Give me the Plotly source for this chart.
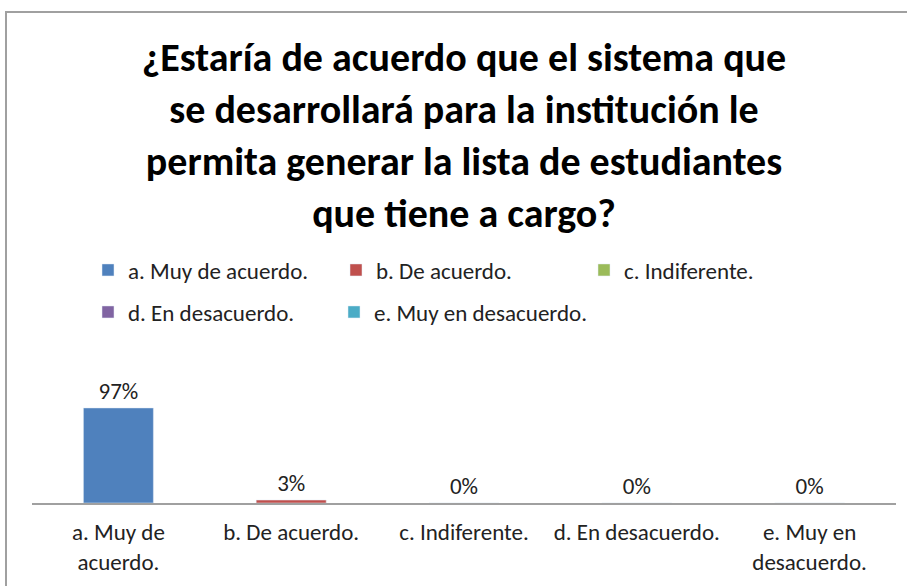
import plotly.graph_objects as go

# %%
categories = [
    'a. Muy de acuerdo.',
    'b. De acuerdo.',
    'c. Indiferente.',
    'd. En desacuerdo.',
    'e. Muy en desacuerdo.',
]
tick_labels = [
    'a. Muy de<br>acuerdo.',
    'b. De acuerdo.',
    'c. Indiferente.',
    'd. En desacuerdo.',
    'e. Muy en<br>desacuerdo.',
]
percentages = [0.97, 0.03, 0.0, 0.0, 0.0]
colors = ['#4F81BD', '#C0504D', '#9BBB59', '#8064A2', '#4BACC6']
legend_ids = ['legend', 'legend', 'legend', 'legend2', 'legend3']

title_text = (
    '¿Estaría de acuerdo que el sistema que<br>'
    'se desarrollará para la institución le<br>'
    'permita generar la lista de estudiantes<br>'
    'que tiene a cargo?'
)

FONT = 'Calibri, Carlito, Lato, sans-serif'
W, H = 907, 586
# plot area in pixels
PX_L, PX_R, PX_T, PX_B = 32, 896, 250, 503
PX_PER_UNIT = 98.0  # 100% bar height in px


def py(px):
    # pixel row -> paper y
    return (PX_B - px) / (PX_B - PX_T)


def px_(x):
    return (x - PX_L) / (PX_R - PX_L)


# %%
fig = go.Figure()

for cat, val, col, leg in zip(categories, percentages, colors, legend_ids):
    fig.add_trace(
        go.Bar(
            x=[cat],
            y=[val],
            name=cat,
            legend=leg,
            marker_color=col,
            width=0.405,
            text=[f'{val:.0%}'],
            textposition='outside',
            textfont=dict(size=23, color='#222222'),
            cliponaxis=False,
        )
    )

legend_common = dict(
    orientation='h',
    xanchor='left',
    yanchor='middle',
    font=dict(size=23, color='#222222'),
    bgcolor='rgba(0,0,0,0)',
)

fig.update_layout(
    width=W,
    height=H,
    barmode='overlay',
    paper_bgcolor='white',
    plot_bgcolor='rgba(0,0,0,0)',
    font=dict(family=FONT, size=23, color='#222222'),
    margin=dict(l=PX_L, r=W - PX_R, t=PX_T, b=H - PX_B),
    title=dict(
        text=title_text,
        x=464 / W,
        xanchor='center',
        y=1 - 71 / H,
        yanchor='top',
        yref='container',
        font=dict(family=FONT, size=40, color='black', weight='bold'),
    ),
    legend=dict(legend_common, x=px_(88), y=py(270),
                entrywidth=203, entrywidthmode='pixels'),
    legend2=dict(legend_common, x=px_(88), y=py(312)),
    legend3=dict(legend_common, x=px_(88 + 246), y=py(312)),
    showlegend=True,
    xaxis=dict(
        tickmode='array',
        tickvals=categories,
        ticktext=tick_labels,
        showline=True,
        linecolor='#A0A0A0',
        linewidth=1.5,
        ticks='',
        showgrid=False,
        tickfont=dict(size=23),
        ticklabelstandoff=8,
    ),
    yaxis=dict(
        range=[0, (PX_B - PX_T) / PX_PER_UNIT],
        visible=False,
    ),
    shapes=[
        dict(
            type='rect',
            xref='paper', yref='paper',
            x0=px_(6), x1=px_(W + 20),
            y0=py(H + 20), y1=py(12),
            line=dict(color='#A0A0A0', width=2),
            fillcolor='rgba(0,0,0,0)',
            layer='below',
        )
    ],
)

fig.write_html(
    'out.html',
    config={'displayModeBar': False},
    post_script="document.body.style.margin = '0';",
)
